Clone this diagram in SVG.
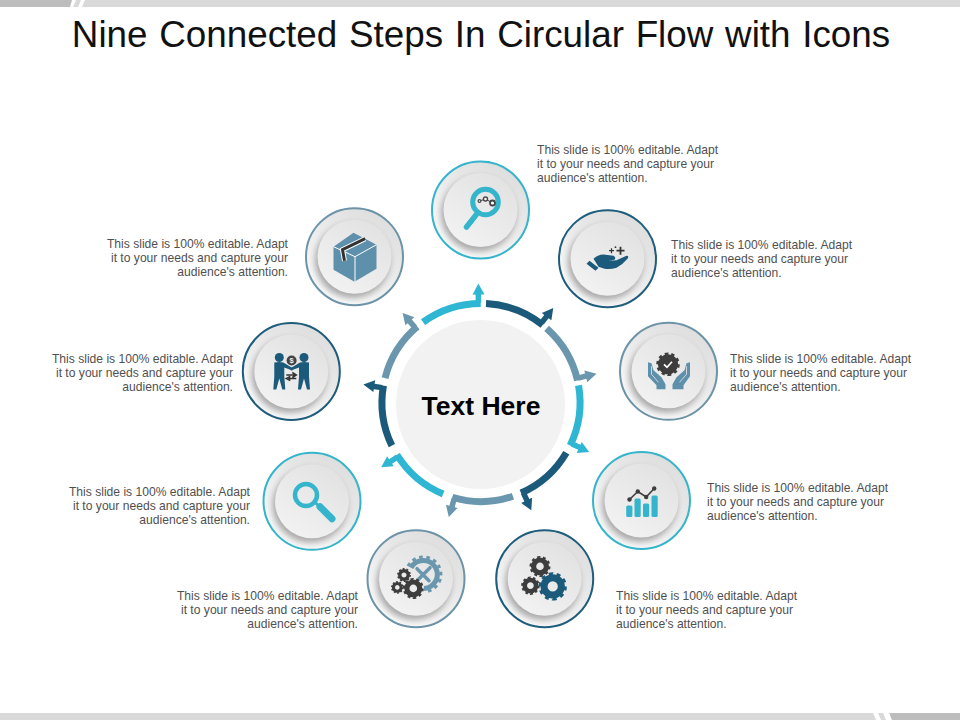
<svg xmlns="http://www.w3.org/2000/svg" xmlns:xlink="http://www.w3.org/1999/xlink" width="960" height="720" viewBox="0 0 960 720">
<style>
text{font-family:"Liberation Sans",Arial,sans-serif}
.title{font-size:36.8px;fill:#111;text-anchor:middle;word-spacing:1.5px}
.center{font-size:26.5px;font-weight:bold;fill:#000;text-anchor:middle}
.d{font-size:12.12px;fill:#505050}
.r{text-anchor:end}
.cy{color:#2fb6d3}.dk{color:#1b5a7a}.gb{color:#6a97ae}
.ringc{stroke:#35b5cc}.ringd{stroke:#1f5d7c}.ringg{stroke:#6c93a8}
.f-c{fill:#35b5cc}.f-d{fill:#1b5a7a}.f-g{fill:#5f90ab}.f-k{fill:#3d3d3d}
</style>
<defs>
<linearGradient id="og" x1="0.8" y1="0.05" x2="0.2" y2="0.95"><stop offset="0" stop-color="#dddddd"/><stop offset="1" stop-color="#fbfbfb"/></linearGradient>
<linearGradient id="ig" x1="0.8" y1="0.05" x2="0.2" y2="0.95"><stop offset="0" stop-color="#e2e2e2"/><stop offset="1" stop-color="#f2f2f2"/></linearGradient>
<filter id="sh" x="-30%" y="-30%" width="160%" height="160%"><feGaussianBlur stdDeviation="3"/></filter>
<g id="disc">
<circle r="49" fill="url(#og)" stroke="none"/>
<circle cx="-2" cy="4" r="37.5" fill="#808080" opacity="0.65" filter="url(#sh)"/>
<circle r="37" fill="url(#ig)"/>
</g>
<g id="seg" fill="currentColor" stroke="none">
<path d="M-56.1,-81.6A99,99 0 0 1 2,-99" fill="none" stroke="currentColor" stroke-width="7"/>
<path d="M-3,-100H2.5V-108H6L0,-119L-6,-108H-3Z"/>
</g>
<g id="gear" fill="none" stroke="currentColor">
<circle r="6.4" stroke-width="5.2"/>
<circle r="9" stroke-width="3" pathLength="20" stroke-dasharray="1 1"/>
</g>
</defs>

<g id="bars">
<rect x="0" y="0" width="960" height="7" fill="#d9d9d9"/>
<rect x="0" y="0" width="72" height="7" fill="#bdbdbd"/>
<path d="M70,7L72,0H76L73,7ZM78,7L81,0H85L82,7Z" fill="#fff"/>
<rect x="0" y="713" width="960" height="7" fill="#d9d9d9"/>
<rect x="890" y="713" width="70" height="7" fill="#bdbdbd"/>
<path d="M873,713H878L881,720H876ZM883,713H889L892,720H886Z" fill="#fff"/>
</g>

<text class="title" x="481" y="47">Nine Connected Steps In Circular Flow with Icons</text>

<g id="connectors">
<use xlink:href="#seg" href="#seg" class="cy" transform="translate(481,402.5) rotate(-1.3)"/>
<use xlink:href="#seg" href="#seg" class="dk" transform="translate(481,402.5) rotate(37.4)"/>
<use xlink:href="#seg" href="#seg" class="gb" transform="translate(481,402.5) rotate(76)"/>
<use xlink:href="#seg" href="#seg" class="cy" transform="translate(481,402.5) rotate(114.6)"/>
<use xlink:href="#seg" href="#seg" class="dk" transform="translate(481,402.5) rotate(155)"/>
<use xlink:href="#seg" href="#seg" class="gb" transform="translate(481,402.5) rotate(195.7)"/>
<use xlink:href="#seg" href="#seg" class="cy" transform="translate(481,402.5) rotate(237)"/>
<use xlink:href="#seg" href="#seg" class="dk" transform="translate(481,402.5) rotate(278.7)"/>
<use xlink:href="#seg" href="#seg" class="gb" transform="translate(481,402.5) rotate(318.8)"/>
</g>

<g id="hub">
<circle cx="480.5" cy="404.5" r="84.5" fill="#f2f2f3"/>
<text class="center" x="481" y="415">Text Here</text>
</g>

<g id="node-1">
<g transform="translate(480.5,210)">
<use xlink:href="#disc" href="#disc"/><circle r="48.5" fill="none" class="ringc" stroke-width="2"/>
<circle cx="5" cy="-8" r="12.8" fill="none" stroke="#35b5cc" stroke-width="5"/>
<path d="M-4.5,5L-14,17" stroke="#35b5cc" stroke-width="5.5" stroke-linecap="round"/>
<path d="M-1,-9L5,-11L12,-7" stroke="#444" stroke-width="1" fill="none"/>
<circle cx="-1" cy="-9" r="1.4" fill="#fff" stroke="#444" stroke-width="1.2"/>
<circle cx="5" cy="-11" r="2" fill="#fff" stroke="#444" stroke-width="1.4"/>
<circle cx="12" cy="-7" r="2.5" fill="#fff" stroke="#444" stroke-width="1.8"/>
</g>
<text class="d" x="537" y="153.5">This slide is 100% editable. Adapt</text>
<text class="d" x="537" y="167.5">it to your needs and capture your</text>
<text class="d" x="537" y="181.5">audience's attention.</text>
</g>

<g id="node-2">
<g transform="translate(607.5,258.7)">
<use xlink:href="#disc" href="#disc"/><circle r="48.5" fill="none" class="ringd" stroke-width="2"/>
<path class="f-d" d="M-21,5L-18,2L-9,9L-12,12Z"/>
<path class="f-d" d="M-14,0Q-8,-5 -2,-4L6,-3Q9,-1 7,1L1,2L9,1.5L19,-3Q22,-3 20,0Q15,6 9,9Q3,11 -3,10L-9,8Z"/>
<path d="M13,-12V-4M9,-8H17" stroke="#333" stroke-width="1.8"/>
<path d="M4,-10.5V-5.5M1.5,-8H6.5" stroke="#333" stroke-width="1.2"/>
<circle cx="8" cy="-11.5" r="0.9" fill="#333"/>
</g>
<text class="d" x="671" y="248.5">This slide is 100% editable. Adapt</text>
<text class="d" x="671" y="262.5">it to your needs and capture your</text>
<text class="d" x="671" y="276.5">audience's attention.</text>
</g>

<g id="node-3">
<g transform="translate(668.5,371.3)">
<use xlink:href="#disc" href="#disc"/><circle r="48.5" fill="none" class="ringg" stroke-width="2"/>
<g transform="translate(-0.5,-7) scale(1.12)" style="color:#3d3d3d"><circle r="8.5" fill="#3d3d3d"/><use xlink:href="#gear" href="#gear"/></g>
<path d="M-4.5,-7L-1.5,-4L3.5,-9.5" fill="none" stroke="#fff" stroke-width="1.7"/>
<path class="f-g" d="M-20.5,-9L-17,-8L-15,-1L-7,6L-3,13V18H-12V14L-20.5,5Z"/>
<path class="f-g" d="M21.5,-9L18,-8L16,-1L8,6L4,13V18H15V14L21.5,5Z"/>
<path d="M-17,-5L-17,3L-10,11M18,-5L18,3L11,11" fill="none" stroke="#e8e8e8" stroke-width="0.8"/>
</g>
<text class="d" x="730" y="362.5">This slide is 100% editable. Adapt</text>
<text class="d" x="730" y="376.5">it to your needs and capture your</text>
<text class="d" x="730" y="390.5">audience's attention.</text>
</g>

<g id="node-4">
<g transform="translate(641.5,500.5)">
<use xlink:href="#disc" href="#disc"/><circle r="48.5" fill="none" class="ringc" stroke-width="2"/>
<g class="f-c">
<rect x="-15.3" y="5" width="6.2" height="11.5" rx="1.5"/>
<rect x="-7" y="-2" width="6.2" height="18.5" rx="1.5"/>
<rect x="1.5" y="3" width="6.2" height="13.5" rx="1.5"/>
<rect x="10" y="-5" width="6.2" height="21.5" rx="1.5"/>
</g>
<path d="M-12,-1L-3.7,-9L4.7,-3.5L12.7,-12" fill="none" stroke="#3d3d3d" stroke-width="1.6"/>
<g class="f-k"><circle cx="-12" cy="-1" r="2.2"/><circle cx="-3.7" cy="-9" r="2.2"/><circle cx="4.7" cy="-3.5" r="2.2"/><circle cx="12.7" cy="-12" r="2.2"/></g>
</g>
<text class="d" x="707" y="491.5">This slide is 100% editable. Adapt</text>
<text class="d" x="707" y="505.5">it to your needs and capture your</text>
<text class="d" x="707" y="519.5">audience's attention.</text>
</g>

<g id="node-5">
<g transform="translate(544.7,578.7)">
<use xlink:href="#disc" href="#disc"/><circle r="48.5" fill="none" class="ringd" stroke-width="2"/>
<use xlink:href="#gear" href="#gear" transform="translate(-4.7,-12.3)" style="color:#3d3d3d"/>
<use xlink:href="#gear" href="#gear" transform="translate(-14.3,7) scale(0.88)" style="color:#3d3d3d"/>
<use xlink:href="#gear" href="#gear" transform="translate(8,7.7) scale(1.35)" style="color:#1b5a7a"/>
</g>
<text class="d" x="616" y="599.5">This slide is 100% editable. Adapt</text>
<text class="d" x="616" y="613.5">it to your needs and capture your</text>
<text class="d" x="616" y="627.5">audience's attention.</text>
</g>

<g id="node-6">
<g transform="translate(416,578.7)">
<use xlink:href="#disc" href="#disc"/><circle r="48.5" fill="none" class="ringg" stroke-width="2"/>
<g fill="none" stroke="#6a97ae">
<path d="M-5,-11A14,14 0 1 1 8,9.7" stroke-width="5"/>
<path d="M-8,-12.6A17.5,17.5 0 1 1 8.5,13.2" stroke-width="3" pathLength="20" stroke-dasharray="1 1"/>
<path d="M1,-10L13,2M14,-11L2,1" stroke-width="3.5" stroke-linecap="round"/>
</g>
<use xlink:href="#gear" href="#gear" transform="translate(-12,-3.7) scale(0.66)" style="color:#3d3d3d"/>
<use xlink:href="#gear" href="#gear" transform="translate(-18.7,8.7) scale(0.6)" style="color:#3d3d3d"/>
<use xlink:href="#gear" href="#gear" transform="translate(-2.7,9.7)" style="color:#3d3d3d"/>
</g>
<text class="d r" x="358" y="599.5">This slide is 100% editable. Adapt</text>
<text class="d r" x="358" y="613.5">it to your needs and capture your</text>
<text class="d r" x="358" y="627.5">audience's attention.</text>
</g>

<g id="node-7">
<g transform="translate(312,501.3)">
<use xlink:href="#disc" href="#disc"/><circle r="48.5" fill="none" class="ringc" stroke-width="2"/>
<circle cx="-6" cy="-6.3" r="11" fill="none" stroke="#35b5cc" stroke-width="4.5"/>
<path d="M3,1L8,6" stroke="#35b5cc" stroke-width="3"/>
<path d="M8,5.5L20,17.5" stroke="#35b5cc" stroke-width="7" stroke-linecap="round"/>
</g>
<text class="d r" x="250" y="495.5">This slide is 100% editable. Adapt</text>
<text class="d r" x="250" y="509.5">it to your needs and capture your</text>
<text class="d r" x="250" y="523.5">audience's attention.</text>
</g>

<g id="node-8">
<g transform="translate(291.3,371.5)">
<use xlink:href="#disc" href="#disc"/><circle r="48.5" fill="none" class="ringd" stroke-width="2"/>
<g class="f-d">
<circle cx="-12" cy="-14" r="4.5"/><circle cx="12.7" cy="-14" r="4.5"/>
<path d="M-17,-9Q-12,-10 -8,-9L2,-3L1,-1L-7,-4L-7,5L-6,18H-9L-12,7L-15,18H-18L-17,5Z"/>
<path d="M17.7,-9Q12.7,-10 8.7,-9L-1.3,-3L-0.3,-1L7.7,-4L7.7,5L6.7,18H9.7L12.7,7L15.7,18H18.7L17.7,5Z"/>
</g>
<circle cx="0.3" cy="-11" r="5" fill="#444"/>
<text x="0.3" y="-8.3" font-size="7.5" font-weight="bold" fill="#eee" text-anchor="middle">$</text>
<path d="M-5,3.5H3M1,1L5,3.5L1,6M5,7H-3M-1,5L-5,7L-1,9" fill="none" stroke="#333" stroke-width="1.5"/>
</g>
<text class="d r" x="233" y="362.5">This slide is 100% editable. Adapt</text>
<text class="d r" x="233" y="376.5">it to your needs and capture your</text>
<text class="d r" x="233" y="390.5">audience's attention.</text>
</g>

<g id="node-9">
<g transform="translate(354.5,256.7)">
<use xlink:href="#disc" href="#disc"/><circle r="48.5" fill="none" class="ringg" stroke-width="2"/>
<path class="f-g" d="M-1,-24L-21,-10V13L0,25L22,12V-12Z"/>
<path d="M-21,-10L0.5,0L22,-12M0.5,0V25" fill="none" stroke="#fff" stroke-width="1"/>
<path d="M10.7,-18L-12,-7L-10,4" fill="none" stroke="#fff" stroke-width="5"/>
<path d="M10.7,-18L-12,-7L-10,4" fill="none" stroke="#333" stroke-width="3"/>
</g>
<text class="d r" x="288" y="247.5">This slide is 100% editable. Adapt</text>
<text class="d r" x="288" y="261.5">it to your needs and capture your</text>
<text class="d r" x="288" y="275.5">audience's attention.</text>
</g>
</svg>
